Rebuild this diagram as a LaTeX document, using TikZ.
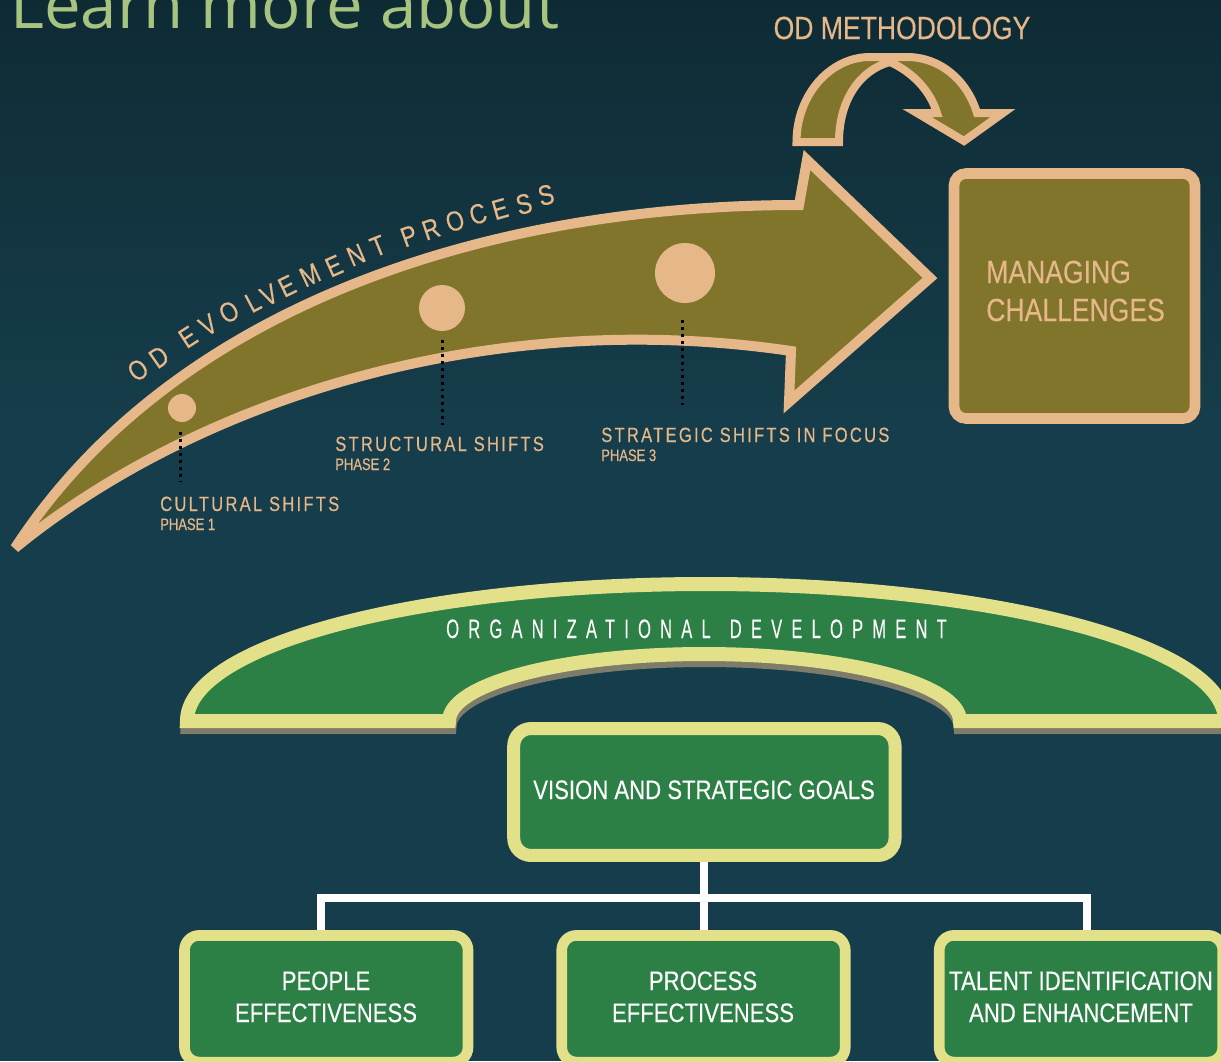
\documentclass[tikz,border=0pt]{standalone}
\usepackage{fontspec}
\setmainfont{Liberation Sans}
\newfontfamily\narrowf[FakeStretch=0.83,FakeBold=0.2]{Liberation Sans}
\newfontfamily\subf[FakeStretch=0.78,FakeBold=0.3]{Liberation Sans}
\newfontfamily\spacedf[FakeStretch=0.80,LetterSpace=11,FakeBold=0.3]{Liberation Sans}
\newfontfamily\orgf[FakeStretch=0.62,LetterSpace=34.5,FakeBold=0.1]{Liberation Sans}
\newfontfamily\curvef[FakeBold=0.2]{Liberation Sans}
\newfontfamily\titlef{Open Sans}
\definecolor{bgtop}{HTML}{0E2B34}
\definecolor{bgbot}{HTML}{163D4B}
\definecolor{tan}{HTML}{E6B789}
\definecolor{olive}{HTML}{80752B}
\definecolor{leaf}{HTML}{2C8046}
\definecolor{pale}{HTML}{E3E08A}
\definecolor{shadowc}{HTML}{7D7C6A}
\definecolor{titlec}{HTML}{A6C480}
\tikzset{
  x=0.75pt,y=-0.75pt,
  tanshape/.style={draw=tan,fill=olive,line width=7.5pt,miter limit=5},
  curveshape/.style={draw=tan,fill=olive,line width=6pt,miter limit=10},
  dotline/.style={black,line width=2.2pt,dash pattern=on 2.2pt off 3pt},
  spot/.style={circle,fill=tan,inner sep=0pt},
  lab/.style={inner sep=0pt,anchor=base west,text=tan,font=\spacedf\fontsize{15.5}{18}\selectfont},
  sublab/.style={inner sep=0pt,anchor=base west,text=tan,font=\subf\fontsize{12.5}{14}\selectfont},
  biglab/.style={inner sep=0pt,anchor=base west,text=tan,font=\narrowf\fontsize{24}{28}\selectfont},
  greenbox/.style={draw=pale,fill=leaf,line width=8pt,rounded corners=11pt,minimum width=212.6pt,minimum height=95pt},
  boxtext/.style={inner sep=0pt,anchor=base,text=white,font=\narrowf\fontsize{20}{24}\selectfont},
  curvech/.style={inner sep=0pt,text=tan,font=\curvef\fontsize{21}{24}\selectfont},
  wire/.style={draw=white,line width=6pt},
  archpath/.style={line width=10.5pt,miter limit=10},
}
\begin{document}
\begin{tikzpicture}
\useasboundingbox (0,0) rectangle (1221,1061);
\clip (0,0) rectangle (1221,1061);
\fill[top color=bgtop,bottom color=bgbot] (0,0) rectangle (1221,420);
\fill[bgbot] (0,419) rectangle (1221,1061);
\node[inner sep=0pt,anchor=base west,text=titlec,font=\titlef\fontsize{49}{56}\selectfont] (title) at (10,28) {Learn more about};
% main arrow
\draw[tanshape] (15,548) .. controls (170,310) and (480,205) .. (799,205) -- (807,160) -- (930,278) -- (789,402) -- (791,351) .. controls (480,305) and (190,405) .. (15,548) -- cycle;
\node[spot,minimum size=45pt] (d3) at (685,273) {};
\node[spot,minimum size=34.5pt] (d2) at (442,308) {};
\node[spot,minimum size=21pt] (d1) at (182,408) {};
\coordinate (e1) at (180.5,482);
\coordinate (e2) at (442.5,425);
\coordinate (e3) at (682.5,405);
\draw[dotline] (e1 |- 0,432) -- (e1);
\draw[dotline] (e2 |- 0,340) -- (e2);
\draw[dotline] (e3 |- 0,320) -- (e3);
\node[lab] (l1) at (160,511) {CULTURAL SHIFTS};
\node[sublab] (p1) at (160,530) {PHASE 1};
\node[lab] (l2) at (335,451) {STRUCTURAL SHIFTS};
\node[sublab] (p2) at (335,470) {PHASE 2};
\node[lab] (l3) at (601,442) {STRATEGIC SHIFTS IN FOCUS};
\node[sublab] (p3) at (601,461) {PHASE 3};
% curved text above the arrow
\foreach \ch/\px/\py/\ang [count=\i] in {O/138/370/36,D/159/357/35,E/188/337/33,V/208/325/31,O/229/312/30,L/253/302/28,V/269/295/27,E/287/286/26,M/310/275/25,E/334/266/24,N/356/255/23,T/378/246/22,P/409/236/20,R/431/229/19,O/455/221/18,C/478/214/17,E/500/209/16,S/524/204/15,S/546/195/14}{
  \node[curvech,rotate=\ang] (ch\i) at (\px,\py) {\scalebox{0.82}[1]{\ch}};
}
\node[biglab,anchor=base] (meth) at (902,39) {OD METHODOLOGY};
\draw[curveshape] (796.5,142) .. controls (796.5,95) and (830,57) .. (870,57) -- (907,57) .. controls (940,57) and (967,80) .. (977,113) -- (1003,113) -- (964,141) -- (917,113) -- (937,113) .. controls (930,90) and (912,72) .. (890,62) .. controls (860,70) and (839,100) .. (839,142) -- cycle;
\draw[draw=tan,fill=olive,line width=8pt,rounded corners=9pt] (954,173.5) rectangle (1195,418.5);
\node[biglab] (m1) at (986,283) {MANAGING};
\node[biglab] (m2) at (986,321) {CHALLENGES};
% organizational development arch
\begin{scope}[xshift=0.4pt,yshift=-4.5pt]
\draw[shadowc,archpath] (187,721) .. controls (187,645) and (419,584) .. (706,584) .. controls (993,584) and (1225,645) .. (1225,721) -- (960,721) .. controls (960,684) and (846,654) .. (704,654) .. controls (562,654) and (449,684) .. (449,721) -- cycle;
\end{scope}
\draw[draw=pale,fill=leaf,archpath] (187,721) .. controls (187,645) and (419,584) .. (706,584) .. controls (993,584) and (1225,645) .. (1225,721) -- (960,721) .. controls (960,684) and (846,654) .. (704,654) .. controls (562,654) and (449,684) .. (449,721) -- cycle;
\node[inner sep=0pt,anchor=base,text=white,font=\orgf\fontsize{20}{24}\selectfont] (org) at (696.5,638) {ORGANIZATIONAL\hspace{4pt} DEVELOPMENT};
% boxes
\node[greenbox,line width=9.75pt,rounded corners=13pt,minimum width=286pt,minimum height=95.2pt] (vision) at (704.4,792) {};
\node[boxtext] (vt) at (704,799) {VISION AND STRATEGIC GOALS};
\node[greenbox] (people) at (326.25,998.75) {};
\node[greenbox] (process) at (703.5,998.75) {};
\node[greenbox] (talent) at (1081,998.75) {};
\node[boxtext] (t1) at (326,990) {PEOPLE};
\node[boxtext] (t2) at (326,1022) {EFFECTIVENESS};
\node[boxtext] (t3) at (703,990) {PROCESS};
\node[boxtext] (t4) at (703,1022) {EFFECTIVENESS};
\node[boxtext] (t5) at (1081,990) {TALENT IDENTIFICATION};
\node[boxtext] (t6) at (1081,1022) {AND ENHANCEMENT};
% wires
\coordinate (wl) at (321.4,897.5);
\coordinate (wr) at (1086.5,897.5);
\draw[wire] (process.north |- vision.south) -- (process.north);
\draw[wire] (wl |- people.north) -- (wl) -- (wr) -- (wr |- talent.north);
\end{tikzpicture}
\end{document}
